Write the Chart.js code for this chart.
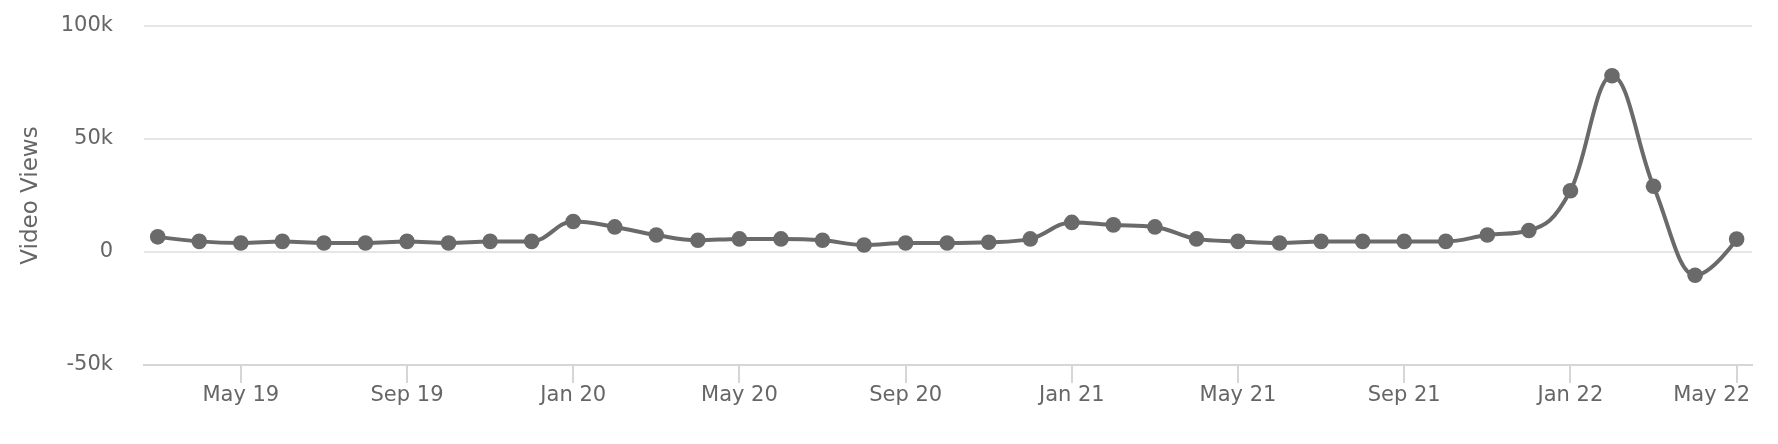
<!DOCTYPE html>
<html><head><meta charset="utf-8">
<script src="https://cdn.jsdelivr.net/npm/chart.js@4/dist/chart.umd.min.js"></script>
<style>html,body{margin:0;padding:0;background:#fff}#wrap{width:1778px;height:444px;position:relative}</style>
</head><body><div id="wrap"><canvas id="c"></canvas></div>
<script>
const categories = ['Mar 19','Apr 19','May 19','Jun 19','Jul 19','Aug 19','Sep 19','Oct 19','Nov 19','Dec 19',
  'Jan 20','Feb 20','Mar 20','Apr 20','May 20','Jun 20','Jul 20','Aug 20','Sep 20','Oct 20','Nov 20','Dec 20',
  'Jan 21','Feb 21','Mar 21','Apr 21','May 21','Jun 21','Jul 21','Aug 21','Sep 21','Oct 21','Nov 21','Dec 21',
  'Jan 22','Feb 22','Mar 22','Apr 22','May 22'];
const views = [6700,4700,4000,4700,4000,4000,4700,4000,4700,4700,
  13500,11100,7500,5200,5800,5800,5200,3100,4000,4000,4300,5800,
  13100,12000,11100,5800,4700,4000,4700,4700,4700,4700,7500,9500,
  27100,78000,29100,-10300,5700];
const xTickLabels = ['May 19','Sep 19','Jan 20','May 20','Sep 20','Jan 21','May 21','Sep 21','Jan 22','May 22'];
const yTickValues = [-50000, 0, 50000, 100000];
const yTickLabels = ['-50k', '0', '50k', '100k'];
const yTitle = 'Video Views';

const FONT = 'DejaVu Sans';
const TXT = '#666666';
const LINE = '#6a6a6a';
const AXIS = '#d6d6d6';

// Highcharts-style spline control points (smoothing 1.5)
const splinePlugin = {
  id: 'hcSpline',
  afterDatasetUpdate(chart, args) {
    const meta = args.meta;
    const line = meta.dataset;
    const pts = meta.data;
    const s = 1.5, d = s + 1;
    for (let i = 0; i < pts.length; i++) {
      const p = pts[i];
      p.cp1x = p.x; p.cp1y = p.y; p.cp2x = p.x; p.cp2y = p.y;
      if (i === 0 || i === pts.length - 1) continue;
      const a = pts[i - 1], b = pts[i + 1];
      let lx = (s * p.x + a.x) / d, ly = (s * p.y + a.y) / d;
      let rx = (s * p.x + b.x) / d, ry = (s * p.y + b.y) / d;
      let corr = 0;
      if (rx !== lx) corr = ((ry - ly) * (rx - p.x)) / (rx - lx) + p.y - ry;
      ly += corr; ry += corr;
      if (ly > a.y && ly > p.y) { ly = Math.max(a.y, p.y); ry = 2 * p.y - ly; }
      else if (ly < a.y && ly < p.y) { ly = Math.min(a.y, p.y); ry = 2 * p.y - ly; }
      if (ry > b.y && ry > p.y) { ry = Math.max(b.y, p.y); ly = 2 * p.y - ry; }
      else if (ry < b.y && ry < p.y) { ry = Math.min(b.y, p.y); ly = 2 * p.y - ry; }
      p.cp1x = lx; p.cp1y = ly; p.cp2x = rx; p.cp2y = ry;
    }
    line._pointsUpdated = true;
  }
};

const lastLabelPlugin = {
  id: 'lastLabel',
  afterDraw(chart) {
    const sx = chart.scales.x;
    const opts = sx.options;
    const ctx = chart.ctx;
    const lastVal = sx.ticks[sx.ticks.length - 1].value;
    const label = categories[lastVal];
    ctx.save();
    ctx.font = '21px "' + FONT + '"';
    ctx.fillStyle = TXT;
    ctx.textAlign = 'right';
    ctx.textBaseline = 'middle';
    const y = sx.top + opts.grid.tickLength + opts.ticks.padding + 12.6;
    ctx.fillText(label, chart.chartArea.right - 2, y);
    ctx.restore();
  }
};

new Chart(document.getElementById('c'), {
  type: 'line',
  data: {
    datasets: [{
      data: views.map((v, i) => ({x: i, y: v})),
      borderColor: LINE,
      backgroundColor: LINE,
      borderWidth: 4,
      pointRadius: 7.8,
      pointHoverRadius: 7.8,
      pointBorderWidth: 0,
      pointBackgroundColor: LINE,
      tension: 0.4,
      clip: false
    }]
  },
  options: {
    responsive: true,
    maintainAspectRatio: false,
    animation: false,
    layout: {padding: {top: 26, right: 26, bottom: 0, left: 0}},
    plugins: {legend: {display: false}, tooltip: {enabled: false}},
    scales: {
      x: {
        type: 'linear',
        min: -0.33,
        max: 38.37,
        afterBuildTicks(scale) {
          scale.ticks = xTickLabels.map(l => ({value: categories.indexOf(l)}));
        },
        afterFit(scale) { scale.height = 79; },
        ticks: {
          autoSkip: false,
          maxRotation: 0,
          padding: 0,
          font: {family: FONT, size: 21},
          color: (c) => (c.index === xTickLabels.length - 1 ? 'rgba(0,0,0,0)' : TXT),
          callback: (v) => categories[v]
        },
        grid: {drawOnChartArea: false, drawTicks: true, tickLength: 18, color: AXIS, lineWidth: 2},
        border: {display: true, color: AXIS, width: 2}
      },
      y: {
        min: -50000,
        max: 100000,
        afterBuildTicks(scale) {
          scale.ticks = yTickValues.map(v => ({value: v}));
        },
        afterFit(scale) { scale.width = 144; },
        ticks: {
          padding: 0,
          font: {family: FONT, size: 21},
          color: TXT,
          callback: (v) => yTickLabels[yTickValues.indexOf(v)]
        },
        grid: {drawTicks: true, tickLength: 31, tickColor: 'rgba(0,0,0,0)', color: '#e6e6e6', lineWidth: 2},
        border: {display: false},
        title: {
          display: true,
          text: yTitle,
          color: TXT,
          font: {family: FONT, size: 23},
          padding: {top: 17, bottom: 0}
        }
      }
    }
  },
  plugins: [splinePlugin, lastLabelPlugin]
});
</script>
</body></html>
